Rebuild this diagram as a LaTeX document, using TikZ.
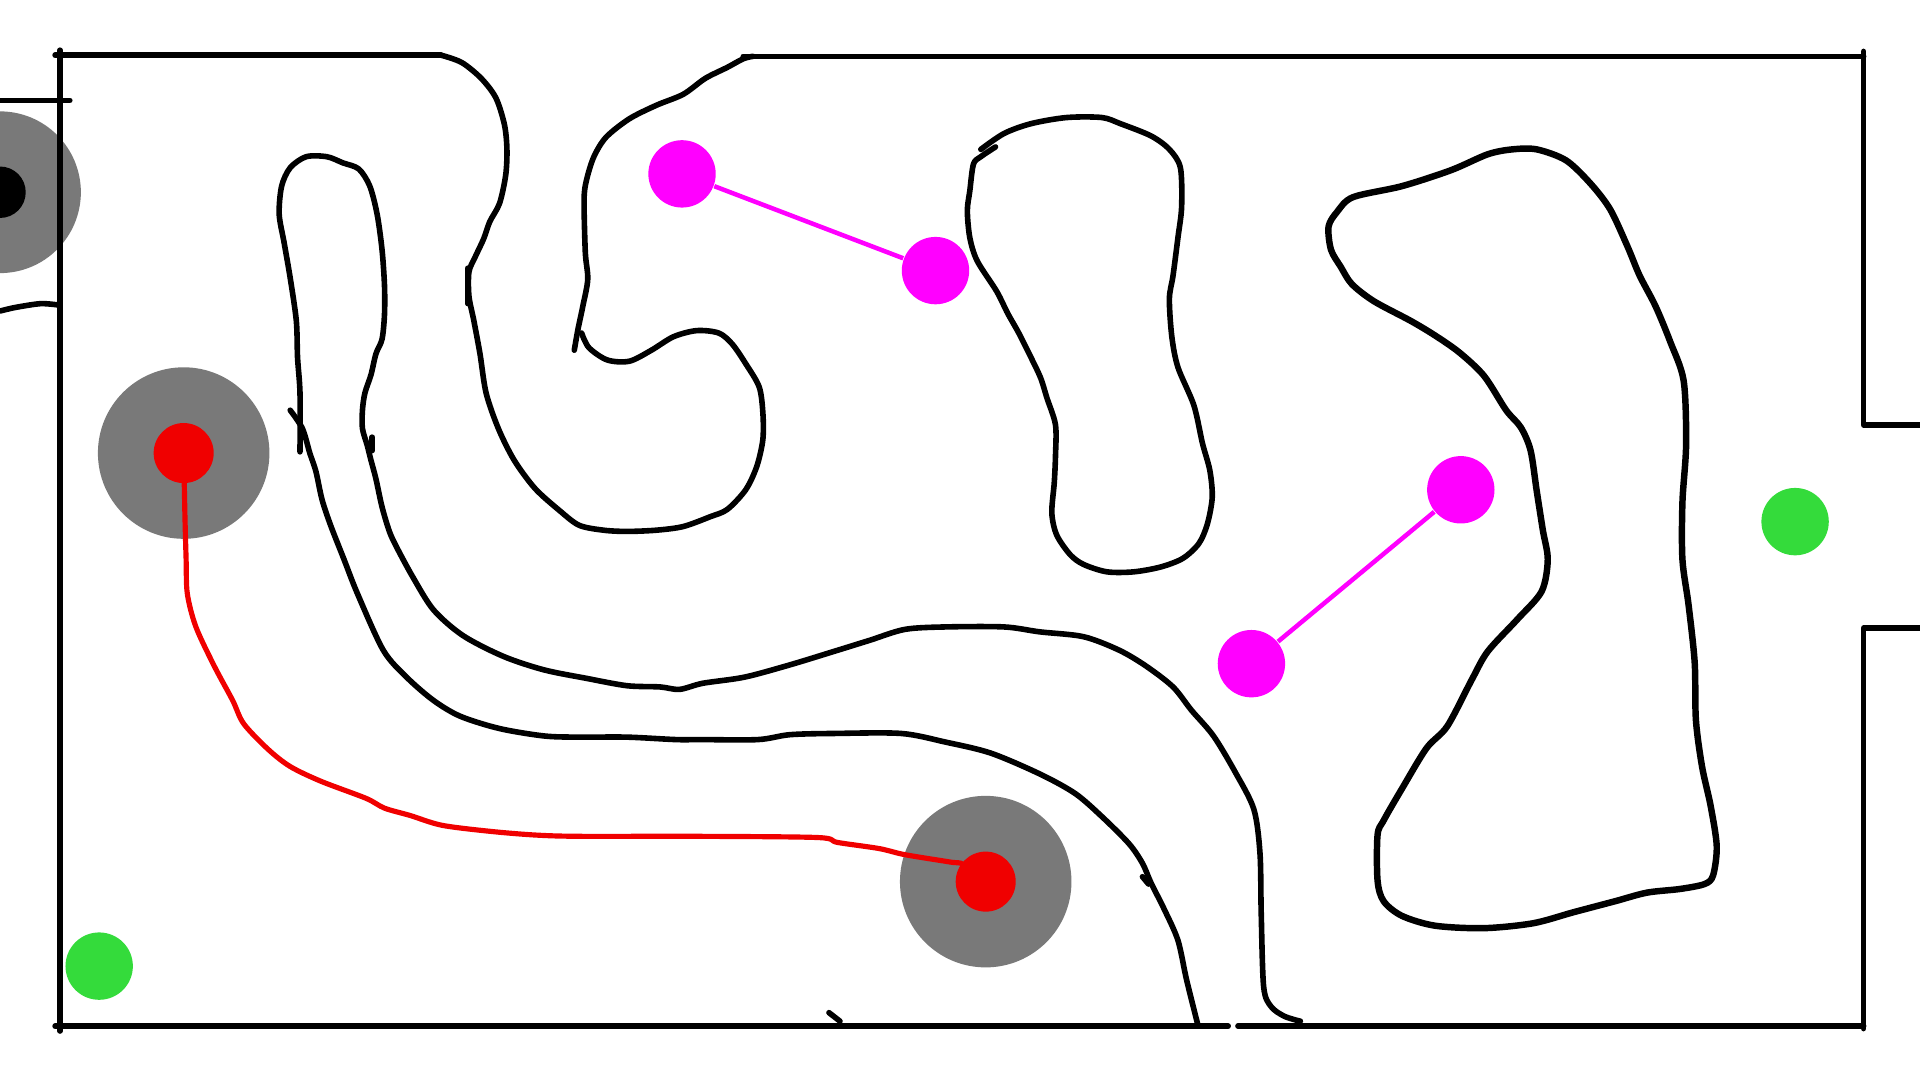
\documentclass[tikz,border=0pt]{standalone}
\begin{document}
\begin{tikzpicture}[x=0.01cm,y=-0.01cm,
  wall/.style={line width=1.3pt,black,line cap=round,line join=round},
  thickwall/.style={line width=1.5pt,black,line cap=round,line join=round},
  dot/.style={circle,inner sep=0pt,draw=none},
  zone/.style={dot,fill=zonegray,minimum size=1.4cm},
  reddot/.style={dot,fill=dotred,minimum size=0.49cm},
  magdot/.style={dot,fill=dotmag,minimum size=0.55cm},
  greendot/.style={dot,fill=dotgreen,minimum size=0.55cm},
  path/.style={line width=1.2pt,dotred,line cap=round,line join=round},
  link/.style={line width=1.05pt,dotmag}]
\definecolor{zonegray}{RGB}{121,121,121}
\definecolor{dotred}{RGB}{240,0,0}
\definecolor{dotmag}{RGB}{255,0,255}
\definecolor{dotgreen}{RGB}{52,219,59}
\useasboundingbox (0,0) rectangle (1568,882);
\clip (0,0) rectangle (1568,882);
\fill[white] (0,0) rectangle (1568,882);

% zones
\node[zone,minimum size=1.32cm] (z0) at (0,157) {};
\node[zone] (z1) at (150,370) {};
\node[zone] (z2) at (805,720) {};
\node[dot,fill=black,minimum size=0.42cm] (b0) at (0,157) {};

% outer walls
\draw[wall] (45,45) -- (360,45);
\draw[wall] (607,46) -- (1522,46);
\draw[wall] (49,41) -- (49,842);
\draw[wall] (45,838) -- (1003,838);
\draw[wall] (1011,838) -- (1522,838);
\draw[wall] (1522,42) -- (1522,347) -- (1568,347);
\draw[wall] (1568,513) -- (1522,513) -- (1522,840);
\draw[wall] (0,82) -- (57,82);
\draw[wall] plot[smooth] coordinates {(0,254) (13,251) (33,248) (47,249)};
\draw[wall] (677,827) -- (686,834);

% cup wall from top
\draw[wall] plot[smooth] coordinates {(360,45) (377,51) (393,64) (405,80) (412,102) (414,122) (413,143) (408,166) (400,181) (395,195) (388,210) (383,222) (383,242) (387,262) (392,289) (397,321) (407,350) (420,376) (437,399) (457,417) (473,429) (493,433) (512,434) (536,433) (558,430) (580,422) (594,416) (609,400) (618,381) (623,359) (623,337) (620,316) (609,297) (598,281) (587,272) (569,270) (550,275) (532,286) (514,295) (496,294) (481,284) (475,272)};
\draw[wall] plot[smooth] coordinates {(469,286) (472,269) (476,250) (480,228) (478,206) (477,163) (479,147) (485,128) (495,112) (514,97) (536,86) (558,77) (576,64) (594,55) (607,48) (615,46)};
\draw[wall] (382,219) -- (382,248);

% snake corridor
\draw[wall] plot[smooth] coordinates {(245,369) (245,321) (243,292) (242,262) (237,227) (232,198) (228,175) (230,152) (237,137) (250,128) (267,128) (280,133) (293,138) (302,152) (308,175) (312,204) (314,233) (314,257) (312,277) (307,289) (303,306) (298,321) (296,335) (296,350) (300,364) (303,376) (307,391) (312,414) (318,434) (324,447) (337,471) (354,498) (378,519) (411,536) (444,547) (479,554) (512,560) (539,561) (555,563) (574,558) (608,553) (645,543) (681,532) (710,523) (739,514) (772,512) (820,512) (849,516) (885,520) (914,531) (936,544) (958,561) (973,580) (991,601) (1009,631) (1024,661) (1029,697) (1030,746) (1032,806) (1038,822) (1049,830) (1062,834)};
\draw[wall] (304,357) -- (304,368);
\draw[wall] plot[smooth] coordinates {(237,335) (247,350) (253,370) (258,385) (263,408) (270,429) (281,457) (292,485) (313,531) (332,553) (354,572) (376,585) (408,595) (444,601) (471,602) (512,602) (552,604) (572,604) (619,604) (645,600) (681,599) (736,599) (772,606) (809,615) (849,632) (878,648) (900,667) (922,689) (933,705) (940,721) (951,743) (962,768) (969,800) (978,836)};
\draw[wall] (933,716) -- (938,722);

% middle blob
\draw[wall] plot[smooth] coordinates {(801,122) (820,109) (842,101) (871,96) (900,96) (915,101) (940,111) (955,122) (964,137) (965,169) (962,194) (958,225) (955,244) (957,275) (962,300) (975,331) (982,362) (988,384) (990,406) (986,428) (979,444) (966,456) (948,463) (926,467) (904,467) (885,461) (874,453) (863,437) (859,419) (861,394) (862,372) (862,347) (855,325) (850,309) (843,294) (832,272) (823,256) (814,238) (798,213) (792,194) (790,172) (792,156) (795,134) (801,128) (813,120)};

% right blob
\draw[thickwall] plot[smooth cycle] coordinates {(1092,173) (1105,161) (1145,152) (1185,139) (1215,126) (1235,122) (1255,122) (1279,131) (1299,150) (1315,171) (1329,201) (1339,225) (1352,250) (1364,279) (1375,311) (1377,363) (1374,410) (1374,457) (1379,494) (1384,541) (1385,588) (1390,626) (1397,658) (1402,691) (1399,715) (1392,722) (1372,726) (1345,729) (1319,736) (1285,745) (1252,754) (1212,758) (1172,756) (1145,748) (1130,736) (1125,719) (1125,682) (1130,670) (1145,644) (1165,611) (1182,593) (1202,555) (1215,532) (1239,506) (1259,483) (1264,457) (1260,433) (1255,401) (1250,368) (1242,349) (1230,335) (1212,307) (1192,288) (1172,274) (1152,262) (1122,246) (1104,232) (1095,218) (1087,204) (1085,185)};

% red path
\coordinate (r1c) at (150,370);
\coordinate (r2c) at (805,720);
\draw[path] plot[smooth] coordinates {(r1c) (151,420) (152,457) (153,485) (160,512) (175,544) (190,572) (199,591) (219,612) (237,626) (262,638) (299,652) (314,660) (335,666) (361,674) (401,679) (438,682) (474,683) (572,683) (668,684) (684,688) (718,693) (739,698) (776,704) (787,706) (r2c)};
\node[reddot] (r1) at (r1c) {};
\node[reddot] (r2) at (r2c) {};

% magenta links
\node[magdot] (m1) at (557,142) {};
\node[magdot] (m2) at (764,221) {};
\node[magdot] (m3) at (1193,400) {};
\node[magdot] (m4) at (1022,542) {};
\draw[link] (m1) -- (m2);
\draw[link] (m3) -- (m4);

% goals
\node[greendot] (g1) at (81,789) {};
\node[greendot] (g2) at (1466,426) {};
\end{tikzpicture}
\end{document}
